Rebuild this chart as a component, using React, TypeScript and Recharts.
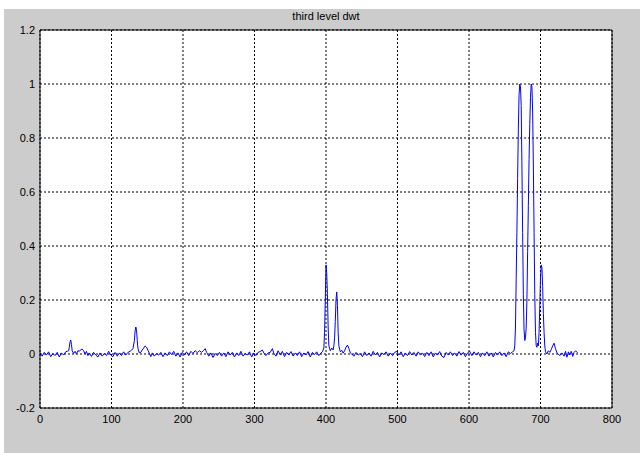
import React from "react";
import {
  LineChart,
  Line,
  XAxis,
  YAxis,
  CartesianGrid,
  ReferenceLine,
} from "recharts";

type Sample = [number, number];

// tick labels of the MATLAB-style axes
const xTicks = [0, 100, 200, 300, 400, 500, 600, 700, 800];
const yTicks = [-0.2, 0, 0.2, 0.4, 0.6, 0.8, 1, 1.2];

// [sample index, coefficient], split by region
const quietStart: Sample[] = [
  [0, 0.004], [3, -0.008], [6, 0.006], [9, -0.004], [12, 0.008], [15, -0.01],
  [18, 0.002], [21, -0.006], [24, 0.006], [27, -0.011], [30, 0.004], [33, -0.004],
  [36, 0.008], [38, 0.01],
];

const bumpNear43: Sample[] = [
  [40, 0.012], [41, 0.025], [42, 0.045], [43, 0.052], [44, 0.035], [45, 0.012],
  [47, 0.002], [49, 0.01], [51, 0.0], [53, 0.012], [55, 0.01], [57, 0.016],
  [59, 0.018], [61, 0.012], [63, 0.0], [65, 0.01], [67, -0.006], [69, 0.004],
  [72, -0.009], [75, 0.006], [78, -0.004], [81, -0.011], [84, 0.004], [87, -0.008],
  [90, 0.002], [93, -0.006], [96, 0.01], [99, -0.004], [102, -0.01], [105, 0.006],
  [108, -0.008], [111, 0.004], [114, -0.006], [117, 0.008], [120, -0.004],
  [123, 0.006], [126, 0.01],
];

const bumpNear135: Sample[] = [
  [128, 0.014], [130, 0.02], [132, 0.05], [133, 0.085], [134, 0.1], [135, 0.09],
  [136, 0.05], [137, 0.02], [139, 0.004], [141, 0.006], [143, 0.015], [145, 0.022],
  [147, 0.03], [149, 0.025], [151, 0.014], [153, 0.002], [155, -0.01], [157, 0.004],
];

const quietMid: Sample[] = [
  [160, -0.008], [163, 0.002], [166, -0.004], [169, 0.006], [172, -0.01],
  [175, 0.004], [178, -0.006], [181, 0.008], [184, -0.002], [187, 0.01],
  [190, -0.008], [193, 0.004], [196, -0.011], [199, 0.006], [202, -0.004],
  [205, 0.008], [208, -0.006], [211, 0.01], [214, 0.002], [217, 0.012],
  [220, 0.005], [223, 0.012], [226, 0.006], [229, 0.014], [231, 0.02],
  [233, 0.006], [236, -0.008], [239, 0.004], [242, -0.013], [245, 0.002],
  [248, -0.006], [251, 0.006], [254, -0.008], [257, 0.004], [260, -0.01],
  [263, 0.008], [266, -0.004], [269, 0.006], [272, -0.011], [275, 0.004],
  [278, -0.006], [281, 0.01], [284, -0.008], [287, 0.002], [290, -0.004],
  [293, 0.008], [296, -0.011], [299, 0.004], [302, -0.006], [305, 0.006],
  [308, 0.009], [311, 0.015], [313, 0.004], [316, -0.006], [319, 0.004],
  [322, 0.006], [325, 0.02], [327, 0.003], [330, -0.008], [333, 0.012],
  [336, -0.004], [339, 0.01], [342, -0.01], [345, 0.006], [348, -0.004],
  [351, 0.009], [354, -0.008], [357, 0.004], [360, -0.006], [363, 0.008],
  [366, -0.01], [369, 0.004], [372, -0.004], [375, 0.009], [378, -0.011],
  [381, 0.006], [384, -0.002], [387, 0.008], [390, -0.006], [393, 0.004],
];

const peaksNear400: Sample[] = [
  [395, 0.008], [397, 0.022], [398, 0.08], [399, 0.2], [400, 0.33], [401, 0.3],
  [402, 0.22], [403, 0.1], [404, 0.03], [406, 0.012], [408, 0.022], [410, 0.015],
  [411, 0.03], [412, 0.06], [413, 0.12], [414, 0.2], [415, 0.23], [416, 0.18],
  [417, 0.08], [418, 0.03], [420, 0.008], [422, 0.014], [424, 0.003], [426, 0.012],
  [428, 0.025], [430, 0.033], [432, 0.02], [434, 0.004], [436, 0.0],
];

const quietLong: Sample[] = [
  [439, -0.008], [442, 0.006], [445, -0.004], [448, 0.002], [451, -0.01],
  [454, 0.008], [457, -0.006], [460, 0.004], [463, -0.008], [466, 0.01],
  [469, -0.004], [472, 0.006], [475, -0.011], [478, 0.004], [481, -0.002],
  [484, 0.008], [487, -0.008], [490, 0.004], [493, -0.006], [496, 0.006],
  [499, 0.01], [502, -0.004], [505, 0.008], [508, -0.01], [511, 0.004],
  [514, -0.006], [517, 0.009], [520, -0.004], [523, 0.006], [526, -0.008],
  [529, 0.008], [532, -0.004], [535, 0.004], [538, -0.01], [541, 0.006],
  [544, -0.006], [547, 0.008], [550, -0.011], [553, 0.004], [556, -0.004],
  [559, 0.009], [562, -0.008], [565, -0.013], [568, 0.006], [571, -0.004],
  [574, 0.008], [577, -0.006], [580, 0.004], [583, -0.008], [586, 0.009],
  [589, -0.004], [592, 0.006], [595, -0.01], [598, 0.004], [601, 0.01],
  [604, -0.006], [607, 0.008], [610, -0.004], [613, 0.006], [616, -0.01],
  [619, 0.004], [622, -0.006], [625, 0.008], [628, -0.008], [631, 0.004],
  [634, -0.011], [637, 0.006], [640, -0.004], [643, 0.008], [646, -0.006],
  [649, 0.004], [652, -0.01], [655, 0.008], [658, 0.002], [661, 0.008],
];

const peaksNear690: Sample[] = [
  [663, 0.012], [664, 0.03], [665, 0.1], [666, 0.28], [667, 0.45], [668, 0.65],
  [669, 0.83], [670, 0.96], [671, 1.0], [672, 0.99], [673, 0.92], [674, 0.7],
  [675, 0.45], [676, 0.22], [677, 0.09], [678, 0.05], [679, 0.06], [680, 0.1],
  [681, 0.2], [682, 0.38], [683, 0.55], [684, 0.72], [685, 0.85], [686, 0.95],
  [687, 1.0], [688, 0.99], [689, 0.9], [690, 0.7], [691, 0.45], [692, 0.22],
  [693, 0.08], [694, 0.03], [695, 0.025], [696, 0.04], [697, 0.03], [698, 0.08],
  [699, 0.18], [700, 0.28], [701, 0.33], [702, 0.32], [703, 0.25], [704, 0.15],
  [705, 0.08], [706, 0.03], [707, 0.008], [709, 0.0], [711, 0.012], [713, 0.006],
  [715, 0.016], [717, 0.03], [719, 0.04], [721, 0.02], [723, 0.004], [725, 0.0],
];

const quietTail: Sample[] = [
  [727, -0.006], [730, 0.004], [733, -0.008], [735, 0.01], [737, -0.012],
  [739, 0.008], [741, -0.004], [743, 0.01], [745, -0.009], [747, 0.006],
  [749, 0.012], [752, 0.004],
];

const data = [
  ...quietStart,
  ...bumpNear43,
  ...bumpNear135,
  ...quietMid,
  ...peaksNear400,
  ...quietLong,
  ...peaksNear690,
  ...quietTail,
].map(([x, v]) => ({ x, v }));

const font = "'Liberation Sans', Arial, Helvetica, sans-serif";
const tickStyle = { fill: "#000", fontSize: 11, fontFamily: font };

export default function App() {
  return (
    <div
      style={{
        position: "absolute",
        left: 0,
        top: 0,
        width: 640,
        height: 453,
        background: "#fff",
      }}
    >
      <div
        style={{
          position: "absolute",
          left: 4,
          top: 9,
          width: 636,
          height: 444,
          background: "#cccccc",
        }}
      >
        <div
          style={{
            position: "absolute",
            left: 36,
            top: 2,
            width: 572,
            textAlign: "center",
            fontFamily: font,
            fontSize: 11,
            lineHeight: "11px",
            color: "#000",
          }}
        >
          third level dwt
        </div>
        <LineChart
          width={636}
          height={444}
          data={data}
          margin={{ top: 21, right: 28, left: 0, bottom: 0 }}
        >
          <CartesianGrid
            stroke="#000"
            strokeDasharray="2 2"
            fill="#fff"
            fillOpacity={1}
          />
          <XAxis
            dataKey="x"
            type="number"
            domain={[0, 800]}
            ticks={xTicks}
            interval={0}
            height={45}
            axisLine={{ stroke: "#000" }}
            tickLine={false}
            tickSize={5}
            tickMargin={2}
            tick={tickStyle}
          />
          <YAxis
            type="number"
            domain={[-0.2, 1.2]}
            ticks={yTicks}
            interval={0}
            width={36}
            axisLine={{ stroke: "#000" }}
            tickLine={false}
            tickSize={3}
            tickMargin={2}
            tick={tickStyle}
            tickFormatter={(t: number) => String(Number(t.toFixed(1)))}
          />
          <ReferenceLine y={1.2} stroke="#000" />
          <ReferenceLine x={800} stroke="#000" />
          <Line
            type="linear"
            dataKey="v"
            stroke="#0000ff"
            strokeWidth={1}
            dot={false}
            isAnimationActive={false}
          />
        </LineChart>
      </div>
    </div>
  );
}
